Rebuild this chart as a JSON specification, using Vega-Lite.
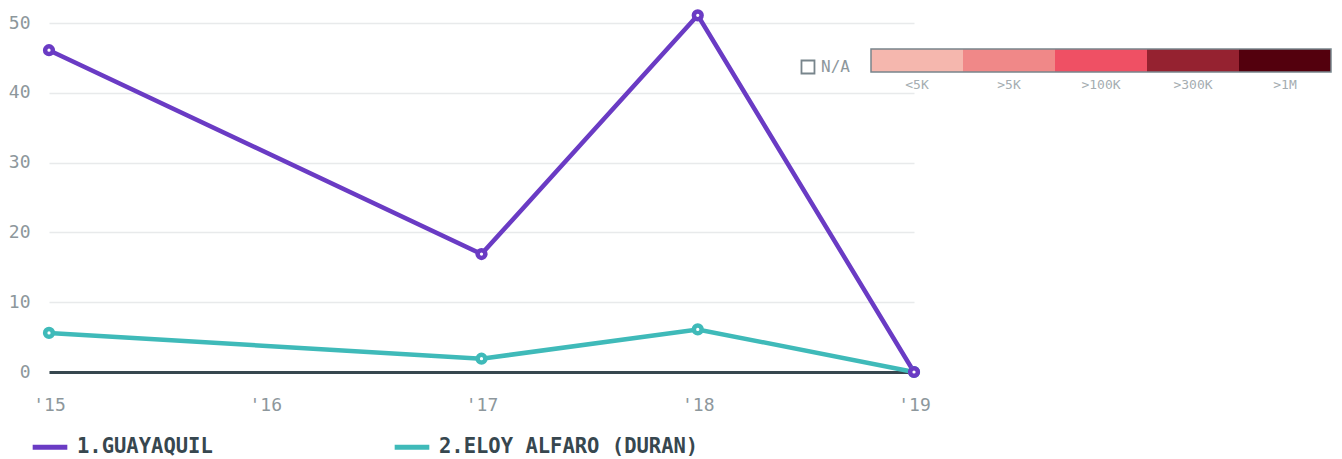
{
  "$schema": "https://vega.github.io/schema/vega-lite/v6.json",
  "width": 865,
  "height": 349,
  "padding": {"left": 8, "top": 2, "right": 0, "bottom": 0},
  "config": {
    "view": {"stroke": null},
    "font": "DejaVu Sans Mono"
  },
  "layer": [
    {
      "data": {"values": [
        {"year": 2015, "city": "2.ELOY ALFARO (DURAN)", "v": 5.6},
        {"year": 2017, "city": "2.ELOY ALFARO (DURAN)", "v": 1.9},
        {"year": 2018, "city": "2.ELOY ALFARO (DURAN)", "v": 6.1},
        {"year": 2019, "city": "2.ELOY ALFARO (DURAN)", "v": 0},
        {"year": 2015, "city": "1.GUAYAQUIL", "v": 46.1},
        {"year": 2017, "city": "1.GUAYAQUIL", "v": 16.9},
        {"year": 2018, "city": "1.GUAYAQUIL", "v": 51.1},
        {"year": 2019, "city": "1.GUAYAQUIL", "v": 0}
      ]},
      "encoding": {
        "x": {"field": "year", "type": "quantitative",
          "scale": {"domain": [2015, 2019], "nice": false, "zero": false},
          "axis": {"values": [2015, 2016, 2017, 2018, 2019], "format": "d",
            "labelExpr": "\"'\" + slice(datum.label, 2)",
            "title": null, "grid": false, "ticks": false, "labelFlush": false, "labelBound": false, "labelOverlap": false,
            "domainColor": "#37474f", "domainWidth": 3,
            "labelPadding": 24, "labelFontSize": 18, "labelColor": "#8d979c", "labelFont": "DejaVu Sans Mono"}},
        "y": {"field": "v", "type": "quantitative",
          "scale": {"domain": [0, 50], "nice": false},
          "axis": {"values": [0, 10, 20, 30, 40, 50], "title": null, "domain": false, "ticks": false,
            "gridColor": "#e8eaeb", "gridWidth": 1.5,
            "labelPadding": 19, "labelFontSize": 18, "labelColor": "#8d979c", "labelFont": "DejaVu Sans Mono"}}
      },
      "layer": [
        {
          "mark": {"type": "line", "strokeWidth": 4.5, "clip": false},
          "encoding": {
            "color": {"field": "city", "type": "nominal",
              "scale": {"domain": ["1.GUAYAQUIL", "2.ELOY ALFARO (DURAN)"], "range": ["#6a3bc4", "#3fbab9"]},
              "legend": {"title": null, "orient": "none", "legendX": -19, "legendY": 404,
                "direction": "horizontal", "symbolType": "stroke", "symbolStrokeWidth": 5,
                "symbolSize": 1200, "labelFontSize": 20.5, "labelFontWeight": "bold",
                "labelFont": "DejaVu Sans Mono", "labelColor": "#37474f",
                "labelOffset": 7, "columnPadding": 171, "labelLimit": 400}}
          }
        },
        {
          "mark": {"type": "point", "filled": true, "fill": "white", "strokeWidth": 4.5, "size": 60, "opacity": 1, "clip": false},
          "encoding": {
            "stroke": {"field": "city", "type": "nominal",
              "scale": {"domain": ["1.GUAYAQUIL", "2.ELOY ALFARO (DURAN)"], "range": ["#6a3bc4", "#3fbab9"]},
              "legend": null}
          }
        }
      ]
    },
    {
      "data": {"values": [
        {"label": "<5K", "i0": 0, "i1": 1, "mid": 0.5, "c": "#f5b7ae"},
        {"label": ">5K", "i0": 1, "i1": 2, "mid": 1.5, "c": "#f08888"},
        {"label": ">100K", "i0": 2, "i1": 3, "mid": 2.5, "c": "#ef5064"},
        {"label": ">300K", "i0": 3, "i1": 4, "mid": 3.5, "c": "#952230"},
        {"label": ">1M", "i0": 4, "i1": 5, "mid": 4.5, "c": "#53000d"}
      ]},
      "layer": [
        {
          "mark": {"type": "rect", "clip": false},
          "encoding": {
            "x": {"field": "i0", "type": "quantitative", "scale": {"domain": [0, 5], "range": [822, 1282], "nice": false, "zero": false}, "axis": null},
            "x2": {"field": "i1"},
            "y": {"datum": 0, "type": "quantitative", "scale": {"domain": [0, 1], "range": [49, 26], "nice": false}, "axis": null},
            "y2": {"datum": 1},
            "fill": {"field": "c", "type": "nominal", "scale": null, "legend": null}
          }
        },
        {
          "data": {"values": [{"a": 0, "b": 5}]},
          "mark": {"type": "rect", "fill": null, "filled": false, "stroke": "#78858c", "strokeWidth": 1.5, "clip": false},
          "encoding": {
            "x": {"field": "a", "type": "quantitative"},
            "x2": {"field": "b"},
            "y": {"datum": 0, "type": "quantitative"},
            "y2": {"datum": 1}
          }
        },
        {
          "mark": {"type": "text", "fontSize": 13, "color": "#a5adb1", "align": "center", "baseline": "middle", "font": "DejaVu Sans Mono"},
          "encoding": {
            "x": {"field": "mid", "type": "quantitative"},
            "y": {"datum": -0.565, "type": "quantitative"},
            "text": {"field": "label"}
          }
        },
        {
          "data": {"values": [{"k": "N/A", "px": -0.685, "tx": -0.543, "py": 0.217}]},
          "layer": [
            {
              "mark": {"type": "point", "shape": "square", "filled": false, "stroke": "#78858c", "strokeWidth": 1.8, "size": 169, "opacity": 1, "clip": false},
              "encoding": {
                "x": {"field": "px", "type": "quantitative"},
                "y": {"field": "py", "type": "quantitative"}
              }
            },
            {
              "mark": {"type": "text", "fontSize": 16, "color": "#8d979c", "align": "left", "baseline": "middle", "font": "DejaVu Sans Mono"},
              "encoding": {
                "x": {"field": "tx", "type": "quantitative"},
                "y": {"field": "py", "type": "quantitative"},
                "text": {"field": "k"}
              }
            }
          ]
        }
      ]
    }
  ],
  "resolve": {"scale": {"x": "independent", "y": "independent"}}
}
